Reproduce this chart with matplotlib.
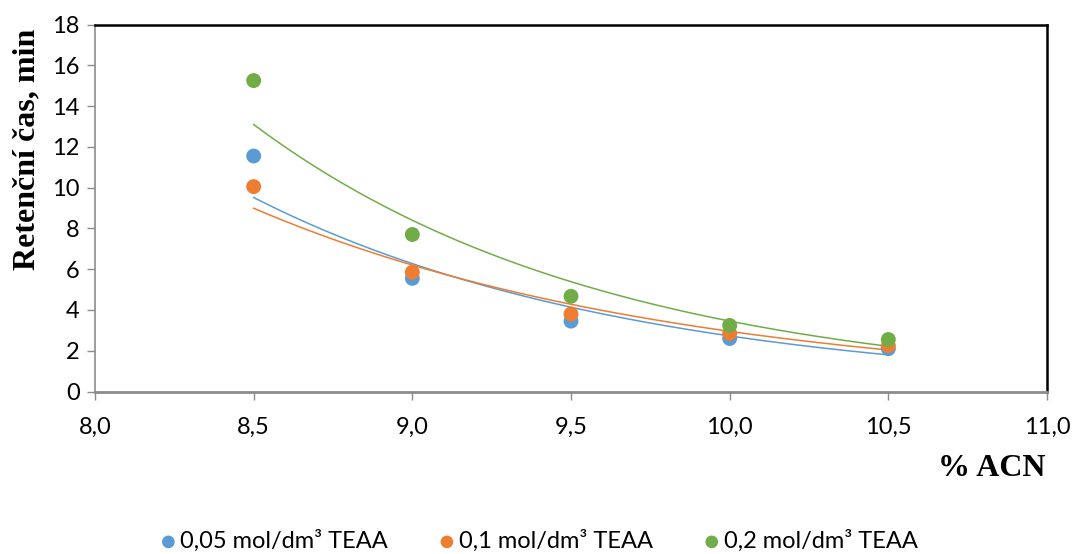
import numpy as np
import matplotlib
matplotlib.use("Agg")
import matplotlib.pyplot as plt

acn = [8.5, 9.0, 9.5, 10.0, 10.5]
series_labels = ["0,05 mol/dm³ TEAA", "0,1 mol/dm³ TEAA", "0,2 mol/dm³ TEAA"]
t_005 = [11.55, 5.55, 3.45, 2.6, 2.1]
t_01 = [10.05, 5.85, 3.8, 2.85, 2.25]
t_02 = [15.25, 7.7, 4.67, 3.24, 2.55]
colors = ["#5B9BD5", "#ED7D31", "#70AD47"]
x_ticks = [8.0, 8.5, 9.0, 9.5, 10.0, 10.5, 11.0]
y_ticks = [0, 2, 4, 6, 8, 10, 12, 14, 16, 18]

fig = plt.figure(figsize=(10.73, 5.54), dpi=100)
W, H = 1073, 554
ax = fig.add_axes([95 / W, 1 - 391.5 / H, (1047 - 95) / W, (391.5 - 24.5) / H])

tick_font = "Lato"
for vals, col, lab in zip([t_005, t_01, t_02], colors, series_labels):
    x = np.array(acn)
    y = np.array(vals)
    b, a = np.polyfit(x, np.log(y), 1)
    xs = np.linspace(x.min(), x.max(), 200)
    ax.plot(xs, np.exp(a + b * xs), color=col, lw=1.1, zorder=2)
    ax.scatter(x, y, s=115, color=col, label=lab, zorder=3, edgecolors="none")

ax.set_xlim(8.0, 11.0)
ax.set_ylim(0, 18)
ax.set_xticks(x_ticks)
ax.set_xticklabels([f"{v:.1f}".replace(".", ",") for v in x_ticks], fontsize=17, family=tick_font)
ax.set_yticks(y_ticks)
ax.set_yticklabels([str(v) for v in y_ticks], fontsize=17, family=tick_font)

for s in ["left", "bottom"]:
    ax.spines[s].set_color("#8c8c8c")
ax.spines["left"].set_linewidth(1.2)
ax.spines["bottom"].set_linewidth(2.0)
for s in ["top", "right"]:
    ax.spines[s].set_color("black")
    ax.spines[s].set_linewidth(1.8)
ax.tick_params(axis="both", direction="out", length=6, width=1.0, color="#8c8c8c")
ax.tick_params(axis="y", pad=5)
ax.tick_params(axis="x", pad=12)

fig.text(27 / W, 1 - 149 / H, "Retenční čas, min", fontsize=23, fontweight="bold",
         family="Liberation Serif", rotation=90, ha="center", va="center")
fig.text(1045 / W, 1 - 468 / H, "% ACN", fontsize=23, fontweight="bold", family="Liberation Serif",
         ha="right", va="center")

leg = fig.legend(loc="center", bbox_to_anchor=(537 / W, 1 - 541 / H), ncol=3, frameon=False,
                 prop={"family": tick_font, "size": 17}, handletextpad=0.0, columnspacing=2.0,
                 markerscale=0.85, scatterpoints=1, handlelength=1.0)

fig.savefig("out.png", dpi=100)
